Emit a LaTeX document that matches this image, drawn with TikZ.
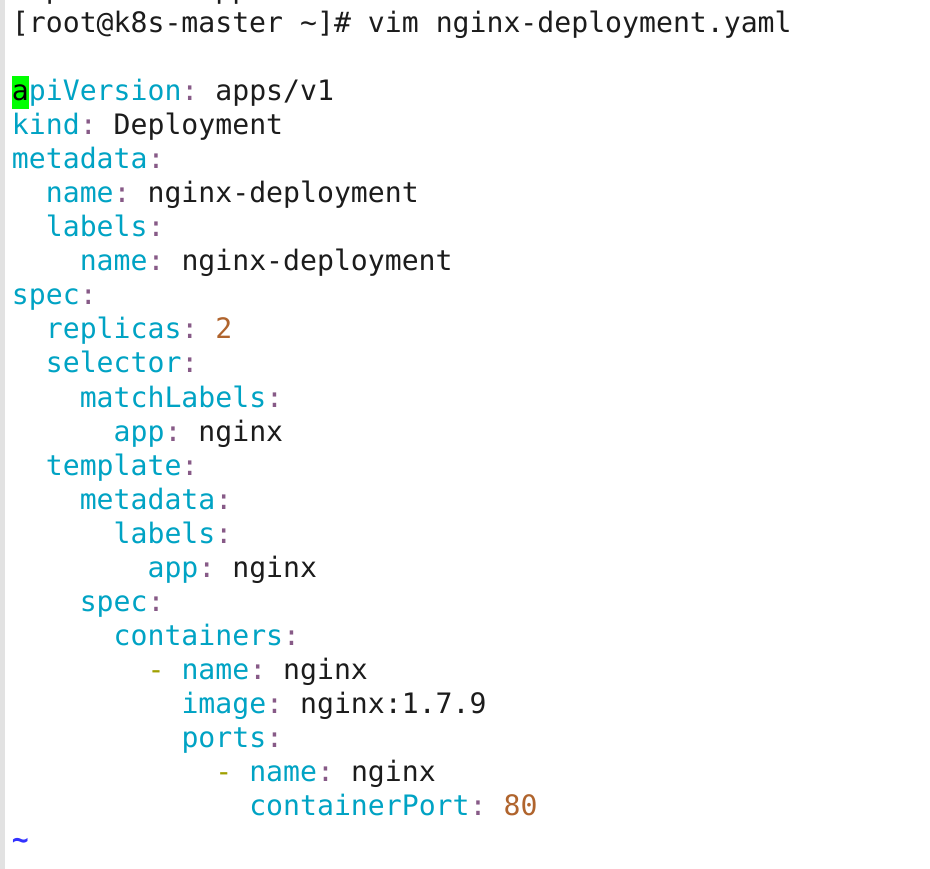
\documentclass[tikz,border=0pt]{standalone}
\usepackage{fontspec}
\newfontfamily\termfont{DejaVu Sans Mono}
\definecolor{keyc}{RGB}{0,163,196}
\definecolor{colc}{RGB}{135,90,135}
\definecolor{numc}{RGB}{176,100,45}
\definecolor{dashc}{RGB}{160,160,0}
\definecolor{txtc}{RGB}{28,28,28}
\definecolor{tildec}{RGB}{50,50,255}
\definecolor{barc}{RGB}{226,226,226}
\definecolor{curc}{RGB}{0,255,0}
\newcommand\ky[1]{\textcolor{keyc}{#1}\textcolor{colc}{:}}
\newcommand\cw{16.95}
\begin{document}
\begin{tikzpicture}[x=1pt,y=-1pt,
  term/.style={anchor=base west,inner sep=0pt,outer sep=0pt,font=\termfont\fontsize{28.15}{34}\selectfont,text=txtc}]
\useasboundingbox (0,0) rectangle (930,869);
\fill[white] (0,0) rectangle (930,869);
\fill[barc] (0,0) rectangle (5,869);
\begin{scope}
\clip (0,0) rectangle (930,869);
\node[term] (pa) at ({12+2*\cw},-1) {p};
\node[term] (pb) at ({12+12*\cw},-1) {pp};
\end{scope}
% prompt line
\node[term] (p1) at ({12+0*\cw},33) {[root@k8s-master};
\node[term] (p2) at ({12+17*\cw},33) {\textasciitilde]\#};
\node[term] (p3) at ({12+21*\cw},33) {vim};
\node[term] (p4) at ({12+25*\cw},33) {nginx-deployment.yaml};
% cursor
\fill[curc] (12,{101-25}) rectangle ({12+\cw},{101+8});
\node[term,text=black] (cur) at (12,101) {a};
\node[term] (l2) at ({12+1*\cw},101) {\textcolor{keyc}{piVersion}\textcolor{colc}{:}};
\node[term] (l2v) at ({12+12*\cw},101) {apps/v1};
\node[term] (l3) at ({12+0*\cw},135) {\ky{kind}};
\node[term] (l3v) at ({12+6*\cw},135) {Deployment};
\node[term] (l4) at ({12+0*\cw},169) {\ky{metadata}};
\node[term] (l5) at ({12+2*\cw},203) {\ky{name}};
\node[term] (l5v) at ({12+8*\cw},203) {nginx-deployment};
\node[term] (l6) at ({12+2*\cw},237) {\ky{labels}};
\node[term] (l7) at ({12+4*\cw},271) {\ky{name}};
\node[term] (l7v) at ({12+10*\cw},271) {nginx-deployment};
\node[term] (l8) at ({12+0*\cw},305) {\ky{spec}};
\node[term] (l9) at ({12+2*\cw},339) {\ky{replicas}};
\node[term,text=numc] (l9v) at ({12+12*\cw},339) {2};
\node[term] (l10) at ({12+2*\cw},373) {\ky{selector}};
\node[term] (l11) at ({12+4*\cw},407) {\ky{matchLabels}};
\node[term] (l12) at ({12+6*\cw},441) {\ky{app}};
\node[term] (l12v) at ({12+11*\cw},441) {nginx};
\node[term] (l13) at ({12+2*\cw},475) {\ky{template}};
\node[term] (l14) at ({12+4*\cw},509) {\ky{metadata}};
\node[term] (l15) at ({12+6*\cw},543) {\ky{labels}};
\node[term] (l16) at ({12+8*\cw},577) {\ky{app}};
\node[term] (l16v) at ({12+13*\cw},577) {nginx};
\node[term] (l17) at ({12+4*\cw},611) {\ky{spec}};
\node[term] (l18) at ({12+6*\cw},645) {\ky{containers}};
\node[term,text=dashc] (l19d) at ({12+8*\cw},679) {-};
\node[term] (l19) at ({12+10*\cw},679) {\ky{name}};
\node[term] (l19v) at ({12+16*\cw},679) {nginx};
\node[term] (l20) at ({12+10*\cw},713) {\ky{image}};
\node[term] (l20v) at ({12+17*\cw},713) {nginx:1.7.9};
\node[term] (l21) at ({12+10*\cw},747) {\ky{ports}};
\node[term,text=dashc] (l22d) at ({12+12*\cw},781) {-};
\node[term] (l22) at ({12+14*\cw},781) {\ky{name}};
\node[term] (l22v) at ({12+20*\cw},781) {nginx};
\node[term] (l23) at ({12+14*\cw},815) {\ky{containerPort}};
\node[term,text=numc] (l23v) at ({12+29*\cw},815) {80};
\node[term,text=tildec,font=\termfont\bfseries\fontsize{28.15}{34}\selectfont] (tl) at (12,849) {\textasciitilde};
\end{tikzpicture}
\end{document}
